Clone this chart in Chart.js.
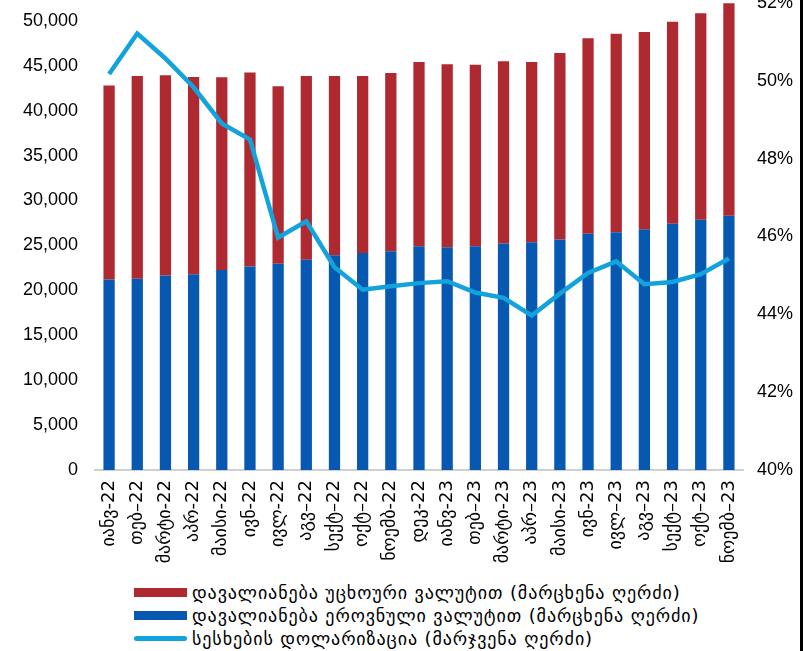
<!DOCTYPE html>
<html>
<head>
<meta charset="utf-8">
<script src="https://cdn.jsdelivr.net/npm/chart.js@4.4.1/dist/chart.umd.min.js"></script>
<style>
  html, body { margin: 0; padding: 0; background: #fff; }
  body { width: 803px; height: 651px; position: relative; overflow: hidden; }
  #wrap { position: absolute; left: 0; top: -25px; width: 803px; height: 600px; }
  #edge { position: absolute; right: 0; top: 0; width: 3px; height: 651px; background: #000; }
  #legend { position: absolute; left: 134px; top: 581px; font: 18px "DejaVu Sans", Arial, sans-serif; letter-spacing: 0.9px; color: #000; }
  #legend .row { display: flex; align-items: center; height: 23px; white-space: nowrap; }
  #legend .mark { width: 53px; margin-right: 5px; }
</style>
</head>
<body>
<div id="wrap"><canvas id="chart"></canvas></div>
<div id="legend"></div>
<div id="edge"></div>
<script>
const months = ["იანვ-22", "თებ–22", "მარტი-22", "აპრ-22", "მაისი-22", "ივნ-22", "ივლ-22", "აგვ–22", "სექტ–22", "ოქტ–22", "ნოემბ-22", "დეკ-22",
  "იანვ-23", "თებ–23", "მარტი-23", "აპრ–23", "მაისი-23", "ივნ-23", "ივლ–23", "აგვ–23", "სექტ–23", "ოქტ–23", "ნოემბ–23"];

// debt in national currency (bottom part of bar)
const debtGel = [21200, 21300, 21650, 21800, 22250, 22650, 22950, 23400, 23900, 24150, 24350, 24900,
  24800, 24900, 25200, 25350, 25650, 26300, 26450, 26800, 27400, 27850, 28300];

// debt in foreign currency (top part of bar)
const debtFx = [21600, 22550, 22300, 21950, 21450, 21600, 19750, 20450, 19950, 19700, 19850, 20500,
  20350, 20200, 20300, 20050, 20750, 21750, 22100, 21950, 22500, 23000, 23650];

// loan dollarization, %
const dollarization = [50.17, 51.21, 50.57, 49.83, 48.90, 48.49, 45.97, 46.39, 45.21, 44.63, 44.72, 44.80,
  44.85, 44.56, 44.42, 43.97, 44.53, 45.06, 45.36, 44.77, 44.83, 45.03, 45.43];

// left axis tick values (axis itself runs 0..52,000, like the right one runs 40..52%)
const leftTicks = [0, 5000, 10000, 15000, 20000, 25000, 30000, 35000, 40000, 45000, 50000];
const rightTicks = [40, 42, 44, 46, 48, 50, 52];

const labelFx = "დავალიანება უცხოური ვალუტით (მარცხენა ღერძი)";
const labelGel = "დავალიანება ეროვნული ვალუტით (მარცხენა ღერძი)";
const labelDollar = "სესხების დოლარიზაცია (მარჯვენა ღერძი)";

const RED = "#af2930";
const BLUE = "#0758b0";
const CYAN = "#12a2dc";

const tickFont = { family: "Arial, 'Liberation Sans', 'DejaVu Sans', sans-serif", size: 18 };

new Chart(document.getElementById("chart"), {
  type: "bar",
  data: {
    labels: months,
    datasets: [
      {
        label: labelGel,
        data: debtGel,
        backgroundColor: BLUE,
        yAxisID: "y",
        order: 1,
        barPercentage: 0.4,
        categoryPercentage: 1,
      },
      {
        label: labelFx,
        data: debtFx,
        backgroundColor: RED,
        yAxisID: "y",
        order: 1,
        barPercentage: 0.4,
        categoryPercentage: 1,
      },
      {
        type: "line",
        label: labelDollar,
        data: dollarization,
        borderColor: CYAN,
        borderWidth: 4.5,
        pointRadius: 0,
        tension: 0,
        yAxisID: "y1",
        order: 0,
      },
    ],
  },
  options: {
    responsive: true,
    maintainAspectRatio: false,
    animation: false,
    layout: { padding: { top: 25, left: 0, right: 0, bottom: 0 } },
    plugins: {
      legend: { display: false },
      tooltip: { enabled: false },
    },
    scales: {
      x: {
        stacked: true,
        grid: { display: false, drawTicks: false },
        border: { display: true, color: "#d0d0d0", width: 2 },
        ticks: {
          color: "#000",
          font: { family: "'DejaVu Sans', Arial, sans-serif", size: 18 },
          minRotation: 90,
          maxRotation: 90,
          autoSkip: false,
          padding: 10,
        },
        afterFit: (scale) => { scale.height = 105; },
      },
      y: {
        stacked: true,
        position: "left",
        min: 0,
        max: 52000,
        grid: { display: false, drawTicks: false },
        border: { display: false },
        ticks: {
          color: "#000",
          font: tickFont,
          padding: 17,
          callback: (v) => v.toLocaleString("en-US"),
        },
        afterBuildTicks: (scale) => { scale.ticks = leftTicks.map((v) => ({ value: v })); },
        afterFit: (scale) => { scale.width = 95; },
      },
      y1: {
        position: "right",
        min: 40,
        max: 52,
        grid: { display: false, drawTicks: false },
        border: { display: false },
        ticks: {
          color: "#000",
          font: tickFont,
          padding: 14,
          callback: (v) => v + "%",
        },
        afterBuildTicks: (scale) => { scale.ticks = rightTicks.map((v) => ({ value: v })); },
        afterFit: (scale) => { scale.width = 60; },
      },
    },
  },
});

// legend in the reference's order: red, blue, line
const legendItems = [
  { text: labelFx, color: RED, kind: "box" },
  { text: labelGel, color: BLUE, kind: "box" },
  { text: labelDollar, color: CYAN, kind: "line" },
];
const legendEl = document.getElementById("legend");
legendItems.forEach((it) => {
  const row = document.createElement("div");
  row.className = "row";
  const mark = document.createElement("span");
  mark.className = "mark";
  mark.style.background = it.color;
  mark.style.height = it.kind === "box" ? "9px" : "5px";
  if (it.kind === "line") mark.style.borderRadius = "3px";
  const txt = document.createElement("span");
  txt.textContent = it.text;
  row.appendChild(mark);
  row.appendChild(txt);
  legendEl.appendChild(row);
});
</script>
</body>
</html>
